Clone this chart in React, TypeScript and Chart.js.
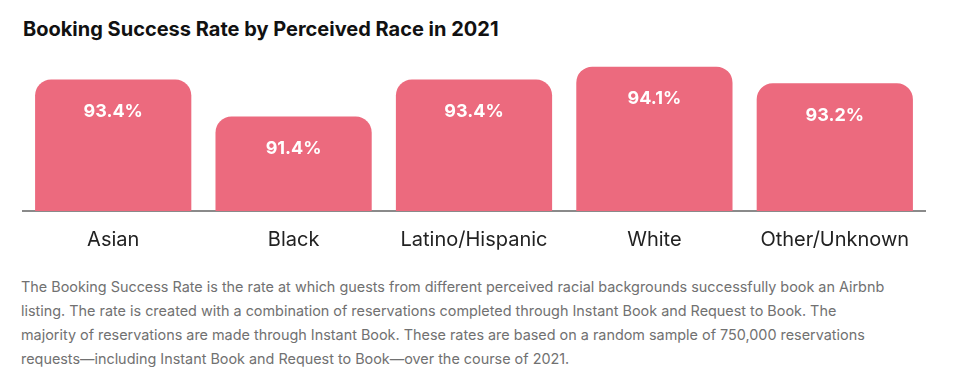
import React, { useEffect, useRef } from "react";
import { Chart, registerables } from "chart.js";

Chart.register(...registerables);

const title = "Booking Success Rate by Perceived Race in 2021";
const categories = ["Asian", "Black", "Latino/Hispanic", "White", "Other/Unknown"];
const rates = [93.4, 91.4, 93.4, 94.1, 93.2];
const captionLines = [
  "The Booking Success Rate is the rate at which guests from different perceived racial backgrounds successfully book an Airbnb",
  "listing. The rate is created with a combination of reservations completed through Instant Book and Request to Book. The",
  "majority of reservations are made through Instant Book. These rates are based on a random sample of 750,000 reservations",
  "requests\u2014including Instant Book and Request to Book\u2014over the course of 2021.",
];

const BAR = "#EC6A7E";
const FONT = "Inter, 'Noto Sans', sans-serif";

const valueLabels = {
  id: "valueLabels",
  afterDatasetsDraw(chart: any) {
    const ctx = chart.ctx;
    const meta = chart.getDatasetMeta(0);
    ctx.save();
    ctx.fillStyle = "#ffffff";
    ctx.font = `700 18px ${FONT}`;
    ctx.textAlign = "center";
    ctx.textBaseline = "middle";
    meta.data.forEach((el: any, i: number) => {
      ctx.fillText(`${rates[i].toFixed(1)}%`, el.x, el.y + 32);
    });
    ctx.restore();
  },
};

export default function App() {
  const ref = useRef<HTMLCanvasElement>(null);
  useEffect(() => {
    document.body.style.margin = "0";
    const chart = new Chart(ref.current!, {
      type: "bar",
      data: {
        labels: categories,
        datasets: [
          {
            data: rates,
            backgroundColor: BAR,
            borderRadius: 16,
            borderSkipped: "start",
            categoryPercentage: 1,
            barPercentage: 0.866,
          },
        ],
      },
      options: {
        animation: false,
        responsive: false,
        maintainAspectRatio: false,
        layout: { padding: { left: 23, right: 34, top: 0, bottom: 0 } },
        plugins: { legend: { display: false }, tooltip: { enabled: false } },
        scales: {
          x: {
            z: 1,
            grid: { display: false, drawTicks: false },
            border: { display: true, color: "#8a8a8a", width: 2 },
            ticks: {
              color: "#222222",
              font: { family: FONT, size: 20, weight: "400" },
              padding: 17,
              maxRotation: 0,
            },
            afterFit(scale: any) {
              scale.height = 49;
            },
          },
          y: {
            display: false,
            min: 86.3,
            max: 95.0,
          },
        },
      },
      plugins: [valueLabels],
    });
    return () => chart.destroy();
  }, []);

  return (
    <div style={{ position: "relative", width: 959, height: 385, background: "#fff", overflow: "hidden" }}>
      <div
        style={{
          position: "absolute",
          left: 23,
          top: 17,
          fontFamily: FONT,
          fontWeight: 700,
          fontSize: 20,
          lineHeight: "24px",
          color: "#111",
          whiteSpace: "nowrap",
        }}
      >
        {title}
      </div>
      <canvas
        ref={ref}
        width={959}
        height={210}
        style={{ position: "absolute", left: 0, top: 50, width: 959, height: 210 }}
      />
      <div
        style={{
          position: "absolute",
          left: 21,
          top: 275,
          fontFamily: FONT,
          fontSize: 14.4,
          lineHeight: "24px",
          color: "#717171",
          whiteSpace: "nowrap",
        }}
      >
        {captionLines.map((l, i) => (
          <div key={i}>{l}</div>
        ))}
      </div>
    </div>
  );
}
